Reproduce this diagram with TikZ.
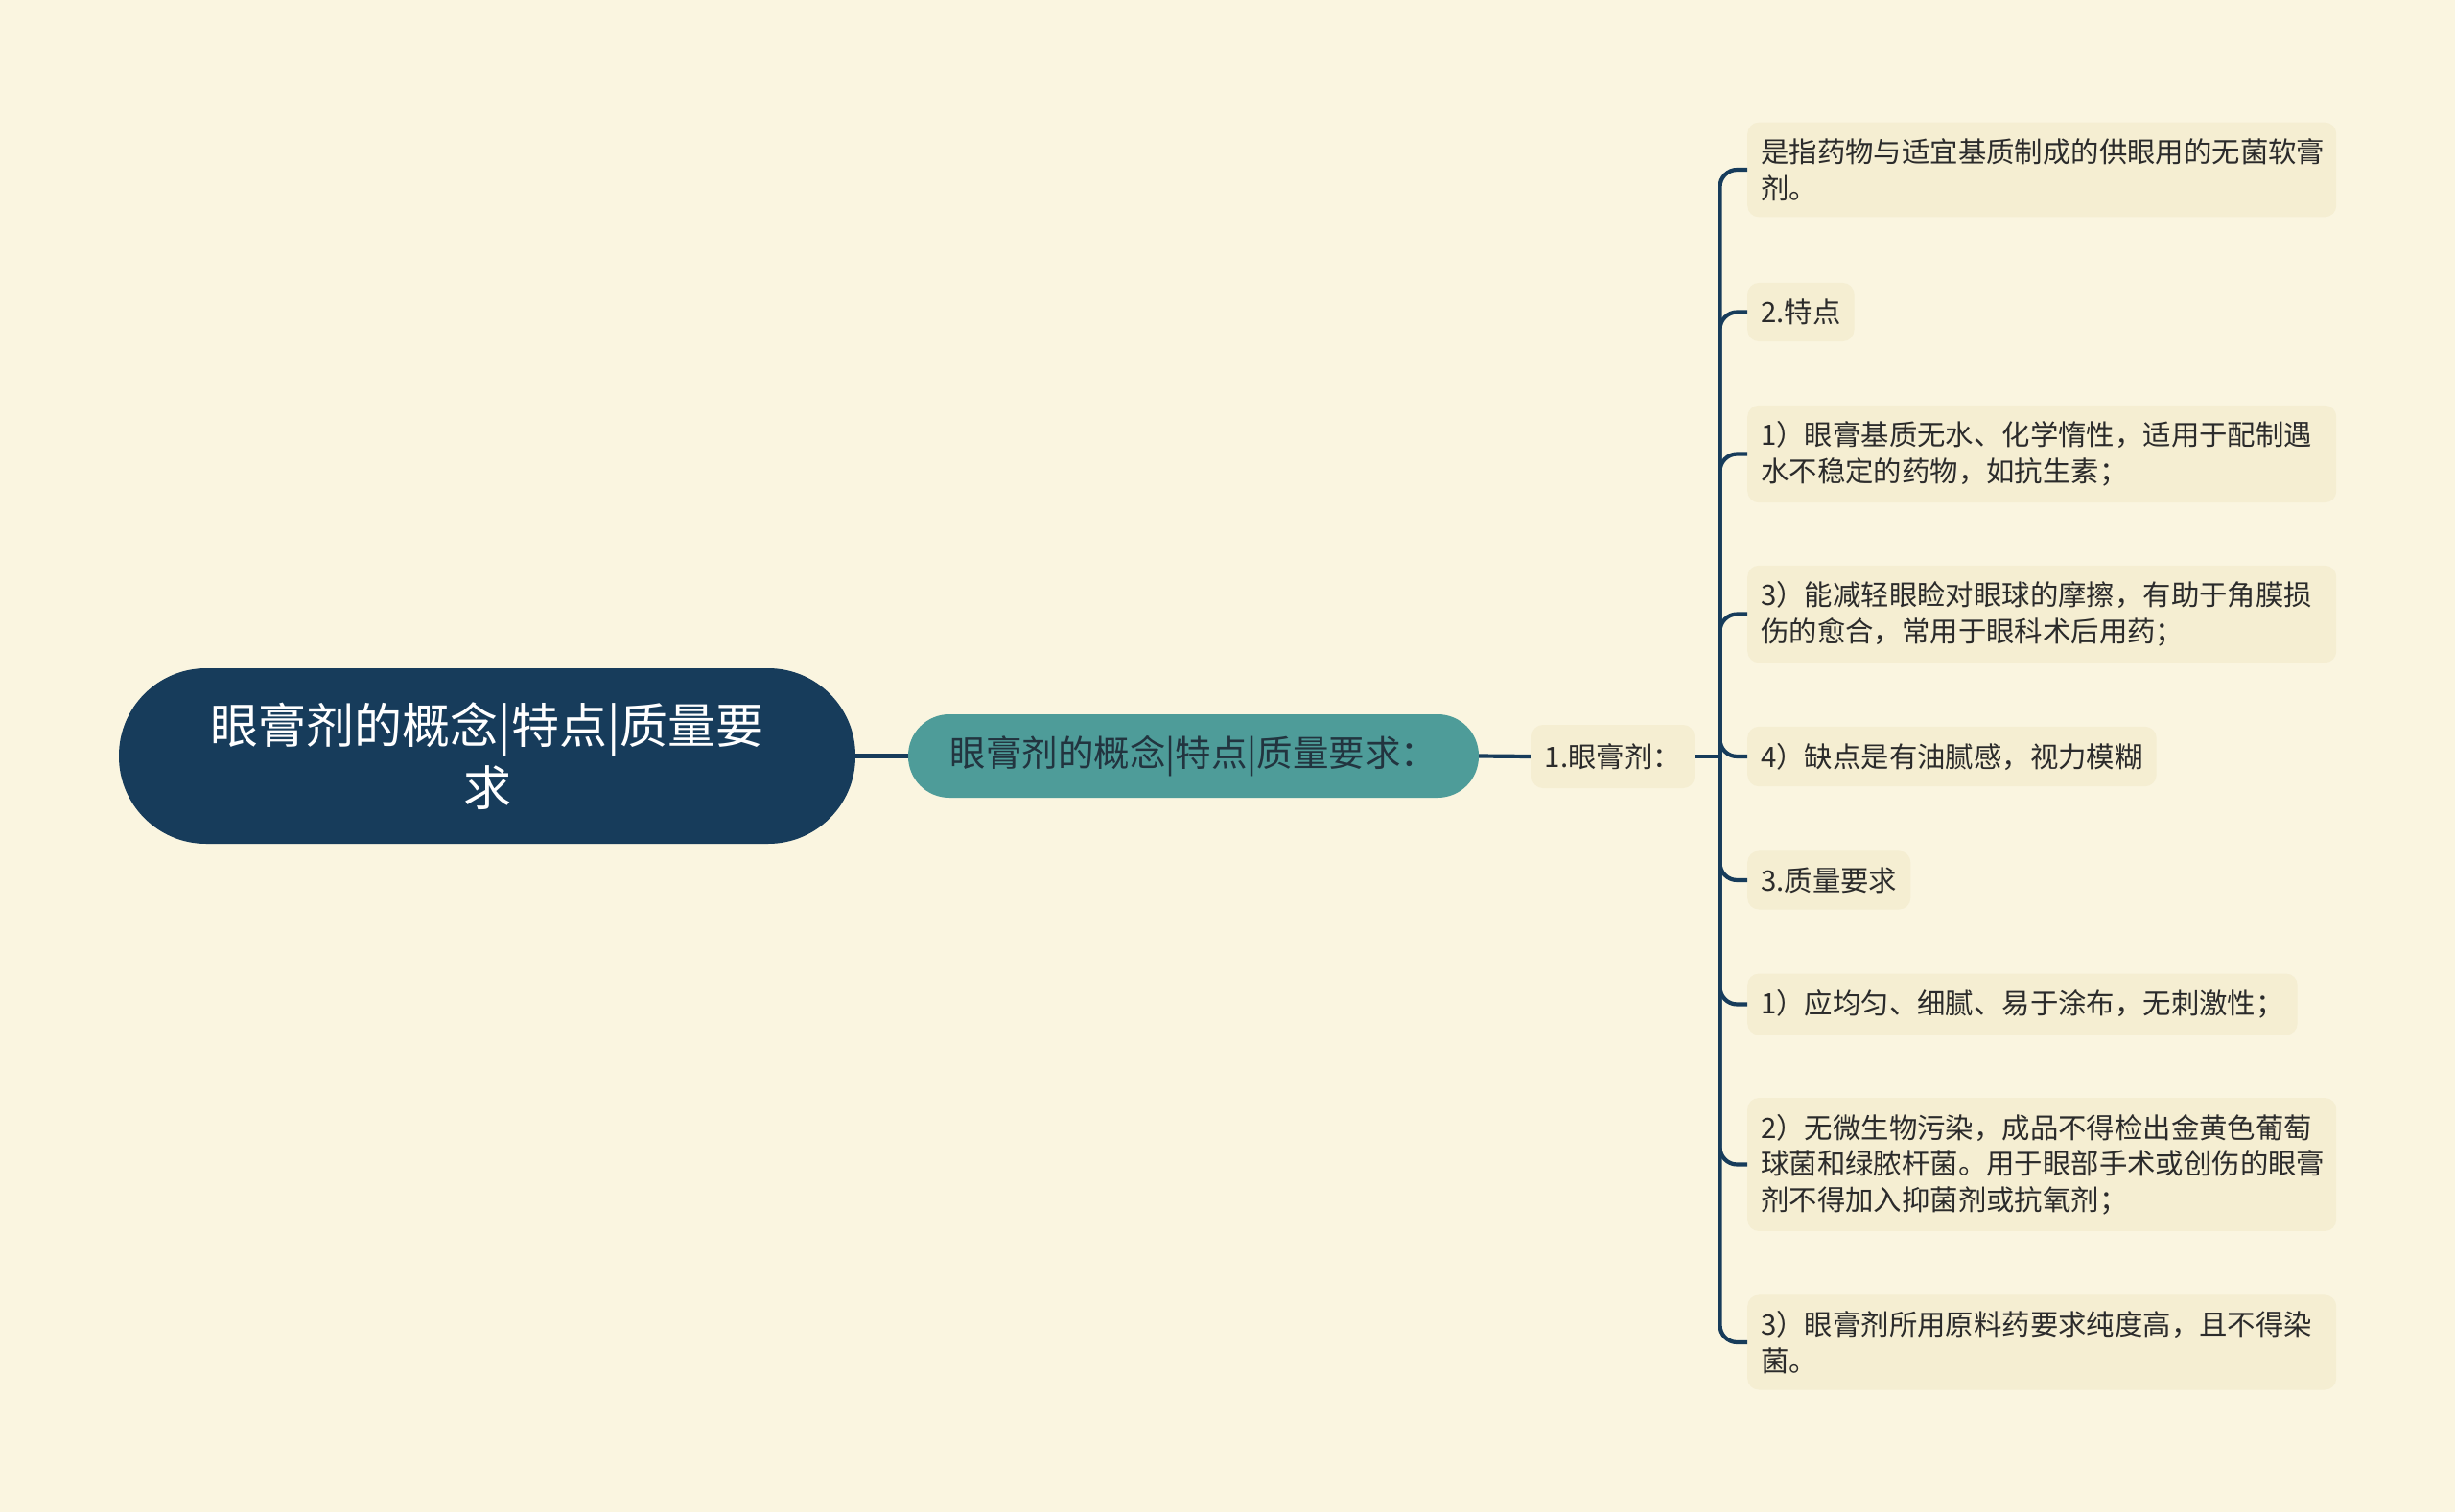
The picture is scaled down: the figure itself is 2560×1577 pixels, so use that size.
\documentclass[tikz,border=0pt]{standalone}
\usepackage{fontspec}
\setmainfont{Noto Sans CJK SC}
\definecolor{bgc}{HTML}{FAF5E0}
\definecolor{leafc}{HTML}{F5EED2}
\definecolor{navy}{HTML}{173C5B}
\definecolor{teal}{HTML}{4E9C99}
\definecolor{txt}{HTML}{2B2B2B}
\definecolor{txtb}{HTML}{22343F}
\begin{document}
\begin{tikzpicture}[x=1pt,y=-1pt,
  conn/.style={draw=navy, line width=4.2pt},
  leaf/.style={fill=leafc, rounded corners=12pt, inner xsep=14pt, inner ysep=17pt,
    font=\fontsize{29.4}{37.5}\selectfont, text=txt, anchor=west},
  wide/.style={leaf, text width=586pt, align=left}]
\fill[bgc] (0,0) rectangle (2560,1577);
\useasboundingbox (0,0) rectangle (2560,1577);

\node[fill=navy, rounded corners=91pt, minimum width=768pt, minimum height=183pt,
  inner sep=0pt, text=white, align=center, font=\fontsize{50}{65}\selectfont]
  (root) at (508,788.5) {眼膏剂的概念|特点|质量要\\求};

\node[fill=teal, rounded corners=43pt, minimum width=595pt, minimum height=87pt,
  inner sep=0pt, text=txtb, font=\fontsize{37.5}{44}\selectfont]
  (sec) at (1244.5,788.5) {眼膏剂的概念|特点|质量要求：};

\node[fill=leafc, rounded corners=12pt, minimum width=170pt, minimum height=66pt,
  inner sep=0pt, text=txt, font=\fontsize{29.4}{37.5}\selectfont]
  (third) at (1682,789) {1.眼膏剂：};

\node[wide] (l1) at (1822,177) {是指药物与适宜基质制成的供眼用的无菌软膏\\剂。};
\node[leaf] (l2) at (1822,325.5) {2.特点};
\node[wide] (l3) at (1822,473.5) {1）眼膏基质无水、化学惰性，适用于配制遇\\水不稳定的药物，如抗生素；};
\node[wide] (l4) at (1822,640.5) {3）能减轻眼睑对眼球的摩擦，有助于角膜损\\伤的愈合，常用于眼科术后用药；};
\node[leaf] (l5) at (1822,789) {4）缺点是有油腻感，视力模糊};
\node[leaf] (l6) at (1822,918) {3.质量要求};
\node[leaf] (l7) at (1822,1047.5) {1）应均匀、细腻、易于涂布，无刺激性；};
\node[wide] (l8) at (1822,1214.5) {2）无微生物污染，成品不得检出金黄色葡萄\\球菌和绿脓杆菌。用于眼部手术或创伤的眼膏\\剂不得加入抑菌剂或抗氧剂；};
\node[wide] (l9) at (1822,1400) {3）眼膏剂所用原料药要求纯度高，且不得染\\菌。};

\draw[conn] (root.east) -- (sec.west);
\draw[conn] (sec.east) -- (third.west);
\coordinate (tj) at (1793.5,789);
\draw[conn] (third.east) -- (tj);
\foreach \l in {l1,l2,l3,l4,l5,l6,l7,l8,l9}
  \draw[conn, rounded corners=18pt] (tj) |- (\l.west);
\end{tikzpicture}
\end{document}
